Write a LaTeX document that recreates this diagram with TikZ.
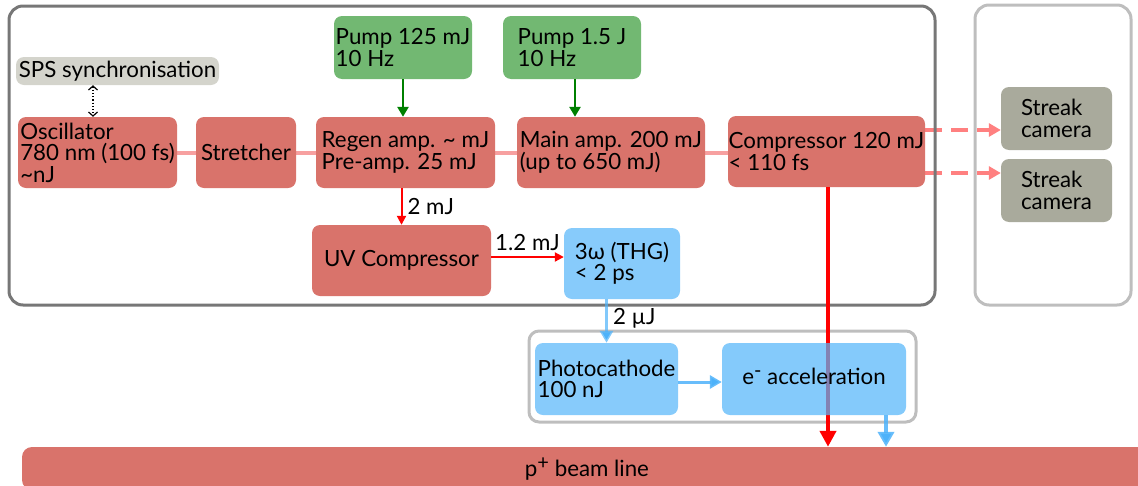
\documentclass[tikz,border=0pt]{standalone}
\usepackage{fontspec}
\setmainfont{Lato}
\usetikzlibrary{arrows.meta}
\definecolor{boxred}{RGB}{217,115,107}
\definecolor{pumpgreen}{RGB}{114,184,114}
\definecolor{spsgray}{RGB}{212,212,204}
\definecolor{streakgray}{RGB}{169,170,156}
\definecolor{lightblue}{RGB}{135,203,251}
\definecolor{eaccblue}{RGB}{84,181,249}
\definecolor{framedark}{RGB}{119,119,119}
\definecolor{framelight}{RGB}{190,190,190}
\definecolor{pinkline}{RGB}{247,160,160}
\definecolor{dashpink}{RGB}{255,128,128}
\definecolor{greenarrow}{RGB}{0,128,0}
\definecolor{bluearrow}{RGB}{77,178,250}
\pgfdeclarelayer{bg}
\pgfsetlayers{bg,main}
\newcommand{\fs}{\fontsize{22.3pt}{21.5pt}\selectfont}
\newcommand{\supsign}[1]{\raisebox{7pt}{\fontsize{20pt}{20pt}\selectfont #1}}
\tikzset{
  box/.style={rounded corners=8pt, inner sep=0pt, align=left, font=\fs},
  redbox/.style={box, fill=boxred},
  greenbox/.style={box, fill=pumpgreen},
  bluebox/.style={box, fill=lightblue},
  graybox/.style={box, fill=streakgray},
  frame/.style={line width=3pt, rounded corners=14pt},
  lbl/.style={font=\fs, inner sep=0pt},
  greenarr/.style={draw=greenarrow, line width=2.5pt, -{Triangle[length=10pt,width=11pt]}},
  redarr/.style={draw=red, line width=2pt, -{Triangle[length=9pt,width=9pt]}},
  bluearr/.style={draw=bluearrow, draw opacity=0.85, line width=3pt, -{Triangle[length=12pt,width=13pt]}},
}
\begin{document}
\begin{tikzpicture}[x=1pt,y=-1pt]
\useasboundingbox (0,0) rectangle (1138,485);
\clip (0,0) rectangle (1138,485);
% nodes
\node[box, fill=spsgray, minimum width=203pt, minimum height=28pt] (sps) at (117.5,71) {SPS synchronisation};
\node[redbox, minimum width=159pt, minimum height=71pt] (osc) at (97.5,152.5) {Oscillator\\780 nm (100 fs)\\\textasciitilde nJ};
\node[redbox, minimum width=100pt, minimum height=71pt] (str) at (246,152.5) {Stretcher};
\node[redbox, minimum width=179pt, minimum height=71pt] (regen) at (405.5,152.5) {Regen amp. \textasciitilde{} mJ\\Pre-amp. 25 mJ};
\node[redbox, minimum width=188pt, minimum height=71pt] (main) at (611,152.5) {Main amp. 200 mJ\\(up to 650 mJ)};
\node[redbox, minimum width=197pt, minimum height=71pt] (comp) at (826.5,151.5) {Compressor 120 mJ\\< 110 fs};
\node[greenbox, minimum width=138pt, minimum height=63pt] (pump1) at (403,47.5) {Pump 125 mJ\\10 Hz};
\node[greenbox, minimum width=138pt, minimum height=63pt] (pump2) at (572,47.5) {Pump 1.5 J\\10 Hz};
\node[graybox, minimum width=111pt, minimum height=63pt] (streak1) at (1056.5,118.5) {Streak\\camera};
\node[graybox, minimum width=111pt, minimum height=63pt] (streak2) at (1056.5,190.5) {Streak\\camera};
\node[redbox, minimum width=179pt, minimum height=71pt] (uv) at (401.5,260.5) {UV Compressor};
\node[bluebox, minimum width=116pt, minimum height=71pt] (thg) at (622,263.5) {3ω (THG)\\< 2 ps};
\node[bluebox, minimum width=143pt, minimum height=72pt] (photo) at (606.5,379) {Photocathode\\100 nJ};
\node[box, fill=boxred, rounded corners=10pt, minimum width=1130pt, minimum height=43pt, text depth=3pt] (beam) at (587,468.5) {p\supsign{+} beam line};
% background layer: pink beam line, dashed arrows, frames
\begin{pgfonlayer}{bg}
  \draw[pinkline, line width=4pt] (osc.east) -- (osc.east -| comp.west);
  \draw[dashpink, line width=4pt, dash pattern=on 17pt off 9pt, -{Triangle[length=12pt,width=13pt]}]
    ([yshift=21.5pt]comp.east) -- ([yshift=21.5pt]comp.east -| streak1.west);
  \draw[dashpink, line width=4pt, dash pattern=on 17pt off 9pt, -{Triangle[length=12pt,width=13pt]}]
    ([yshift=-21.5pt]comp.east) -- ([yshift=-21.5pt]comp.east -| streak2.west);
  \draw[frame, framedark] (9,6) rectangle (935,305);
  \draw[frame, framelight] (975,5) rectangle (1131,305);
  \draw[frame, framelight, rounded corners=10pt] (529,331) rectangle (916,422);
\end{pgfonlayer}
% red main beam
\draw[draw=red, line width=4.5pt, -{Triangle[length=16pt,width=16pt]}]
  ([xshift=1.5pt]comp.south) -- ([xshift=1.5pt]comp.south |- beam.north);
\node[box, fill=eaccblue, fill opacity=0.72, text opacity=1, minimum width=184pt, minimum height=72pt, text depth=5pt] (eacc) at (814,379) {e\supsign{-} acceleration};
% connectors
\draw[black, line width=1.2pt, dotted, {Straight Barb[length=4pt,width=9pt]}-{Straight Barb[length=4pt,width=9pt]}]
  ([xshift=-4.5pt]osc.north |- sps.south) -- ([xshift=-4.5pt]osc.north);
\draw[greenarr] (pump1.south) -- (pump1.south |- regen.north);
\draw[greenarr] ([xshift=3pt]pump2.south) -- ([xshift=3pt]pump2.south |- main.north);
\draw[redarr] (uv.north |- regen.south) -- node[lbl, right=5pt] {2 mJ} (uv.north);
\draw[redarr] ([yshift=3.5pt]uv.east) -- node[lbl, above=5pt] {1.2 mJ} ([yshift=3.5pt]uv.east -| thg.west);
\draw[bluearr, draw opacity=0.7] (photo.north |- thg.south) -- node[lbl, pos=0.45, right=5pt] {2 µJ} (photo.north);
\draw[bluearr] ([yshift=-3pt]photo.east) -- ([yshift=-3pt]photo.east -| eacc.west);
\draw[bluearr, line width=4pt, -{Triangle[length=15pt,width=16pt]}] ([xshift=72pt]eacc.south) -- ([xshift=72pt]eacc.south |- beam.north);
\end{tikzpicture}
\end{document}
